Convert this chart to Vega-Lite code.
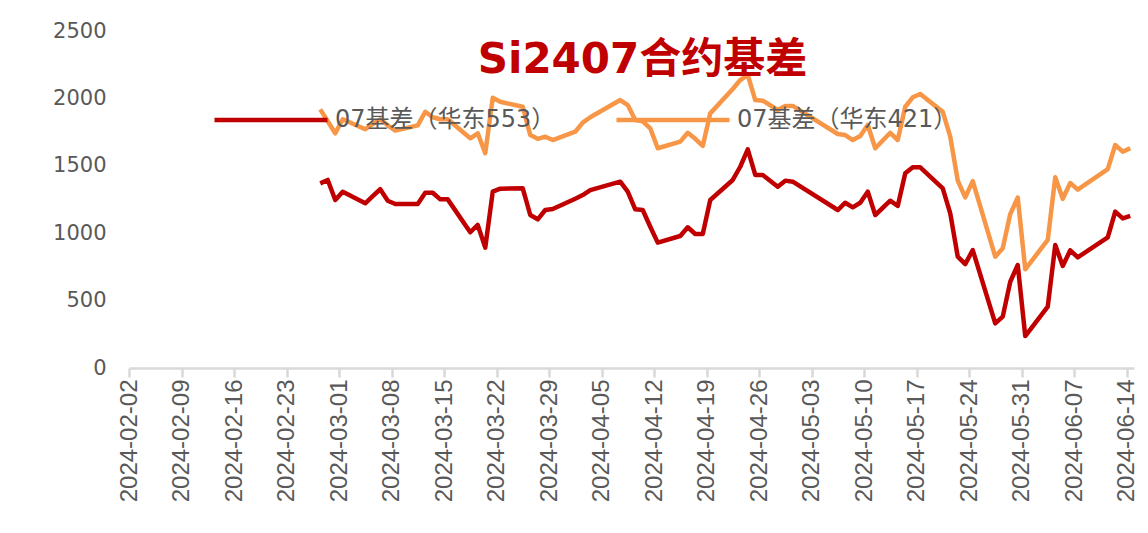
{
  "$schema": "https://vega.github.io/schema/vega-lite/v6.json",
  "width": 1005,
  "height": 337,
  "autosize": {"type": "none"},
  "padding": {"left": 129, "top": 31, "right": 14, "bottom": 165},
  "background": "white",
  "config": {"view": {"stroke": null}},
  "title": {
    "text": "Si2407合约基差",
    "font": "DejaVu Sans, Noto Sans CJK SC",
    "fontSize": 42,
    "fontWeight": "bold",
    "color": "#C00000",
    "anchor": "middle",
    "frame": "group",
    "baseline": "middle",
    "offset": 0,
    "dx": 11,
    "dy": 82
  },
  "data": {
    "values": [
      {"date": "2024-02-27", "series": "07基差（华东553）", "value": 1370},
      {"date": "2024-02-28", "series": "07基差（华东553）", "value": 1395},
      {"date": "2024-02-29", "series": "07基差（华东553）", "value": 1246},
      {"date": "2024-03-01", "series": "07基差（华东553）", "value": 1308},
      {"date": "2024-03-04", "series": "07基差（华东553）", "value": 1222},
      {"date": "2024-03-05", "series": "07基差（华东553）", "value": 1275},
      {"date": "2024-03-06", "series": "07基差（华东553）", "value": 1326},
      {"date": "2024-03-07", "series": "07基差（华东553）", "value": 1241},
      {"date": "2024-03-08", "series": "07基差（华东553）", "value": 1217},
      {"date": "2024-03-11", "series": "07基差（华东553）", "value": 1217},
      {"date": "2024-03-12", "series": "07基差（华东553）", "value": 1300},
      {"date": "2024-03-13", "series": "07基差（华东553）", "value": 1300},
      {"date": "2024-03-14", "series": "07基差（华东553）", "value": 1251},
      {"date": "2024-03-15", "series": "07基差（华东553）", "value": 1251},
      {"date": "2024-03-18", "series": "07基差（华东553）", "value": 1007},
      {"date": "2024-03-19", "series": "07基差（华东553）", "value": 1061},
      {"date": "2024-03-20", "series": "07基差（华东553）", "value": 893},
      {"date": "2024-03-21", "series": "07基差（华东553）", "value": 1308},
      {"date": "2024-03-22", "series": "07基差（华东553）", "value": 1330},
      {"date": "2024-03-25", "series": "07基差（华东553）", "value": 1333},
      {"date": "2024-03-26", "series": "07基差（华东553）", "value": 1135},
      {"date": "2024-03-27", "series": "07基差（华东553）", "value": 1103},
      {"date": "2024-03-28", "series": "07基差（华东553）", "value": 1172},
      {"date": "2024-03-29", "series": "07基差（华东553）", "value": 1180},
      {"date": "2024-04-01", "series": "07基差（华东553）", "value": 1256},
      {"date": "2024-04-02", "series": "07基差（华东553）", "value": 1283},
      {"date": "2024-04-03", "series": "07基差（华东553）", "value": 1320},
      {"date": "2024-04-07", "series": "07基差（华东553）", "value": 1382},
      {"date": "2024-04-08", "series": "07基差（华东553）", "value": 1308},
      {"date": "2024-04-09", "series": "07基差（华东553）", "value": 1177},
      {"date": "2024-04-10", "series": "07基差（华东553）", "value": 1172},
      {"date": "2024-04-11", "series": "07基差（华东553）", "value": 1048},
      {"date": "2024-04-12", "series": "07基差（华东553）", "value": 930},
      {"date": "2024-04-15", "series": "07基差（华东553）", "value": 979},
      {"date": "2024-04-16", "series": "07基差（华东553）", "value": 1044},
      {"date": "2024-04-17", "series": "07基差（华东553）", "value": 994},
      {"date": "2024-04-18", "series": "07基差（华东553）", "value": 994},
      {"date": "2024-04-19", "series": "07基差（华东553）", "value": 1246},
      {"date": "2024-04-22", "series": "07基差（华东553）", "value": 1395},
      {"date": "2024-04-23", "series": "07基差（华东553）", "value": 1493},
      {"date": "2024-04-24", "series": "07基差（华东553）", "value": 1622},
      {"date": "2024-04-25", "series": "07基差（华东553）", "value": 1432},
      {"date": "2024-04-26", "series": "07基差（华东553）", "value": 1432},
      {"date": "2024-04-28", "series": "07基差（华东553）", "value": 1345},
      {"date": "2024-04-29", "series": "07基差（华东553）", "value": 1390},
      {"date": "2024-04-30", "series": "07基差（华东553）", "value": 1382},
      {"date": "2024-05-06", "series": "07基差（华东553）", "value": 1172},
      {"date": "2024-05-07", "series": "07基差（华东553）", "value": 1226},
      {"date": "2024-05-08", "series": "07基差（华东553）", "value": 1192},
      {"date": "2024-05-09", "series": "07基差（华东553）", "value": 1226},
      {"date": "2024-05-10", "series": "07基差（华东553）", "value": 1308},
      {"date": "2024-05-11", "series": "07基差（华东553）", "value": 1135},
      {"date": "2024-05-13", "series": "07基差（华东553）", "value": 1241},
      {"date": "2024-05-14", "series": "07基差（华东553）", "value": 1202},
      {"date": "2024-05-15", "series": "07基差（华东553）", "value": 1444},
      {"date": "2024-05-16", "series": "07基差（华东553）", "value": 1489},
      {"date": "2024-05-17", "series": "07基差（华东553）", "value": 1489},
      {"date": "2024-05-20", "series": "07基差（华东553）", "value": 1333},
      {"date": "2024-05-21", "series": "07基差（华东553）", "value": 1147},
      {"date": "2024-05-22", "series": "07基差（华东553）", "value": 826},
      {"date": "2024-05-23", "series": "07基差（华东553）", "value": 771},
      {"date": "2024-05-24", "series": "07基差（华东553）", "value": 875},
      {"date": "2024-05-27", "series": "07基差（华东553）", "value": 331},
      {"date": "2024-05-28", "series": "07基差（华东553）", "value": 381},
      {"date": "2024-05-29", "series": "07基差（华东553）", "value": 640},
      {"date": "2024-05-30", "series": "07基差（华东553）", "value": 764},
      {"date": "2024-05-31", "series": "07基差（华东553）", "value": 237},
      {"date": "2024-06-03", "series": "07基差（华东553）", "value": 455},
      {"date": "2024-06-04", "series": "07基差（华东553）", "value": 912},
      {"date": "2024-06-05", "series": "07基差（华东553）", "value": 757},
      {"date": "2024-06-06", "series": "07基差（华东553）", "value": 873},
      {"date": "2024-06-07", "series": "07基差（华东553）", "value": 821},
      {"date": "2024-06-11", "series": "07基差（华东553）", "value": 969},
      {"date": "2024-06-12", "series": "07基差（华东553）", "value": 1160},
      {"date": "2024-06-13", "series": "07基差（华东553）", "value": 1110},
      {"date": "2024-06-14", "series": "07基差（华东553）", "value": 1128},
      {"date": "2024-02-27", "series": "07基差（华东421）", "value": 1919},
      {"date": "2024-02-28", "series": "07基差（华东421）", "value": 1830},
      {"date": "2024-02-29", "series": "07基差（华东421）", "value": 1741},
      {"date": "2024-03-01", "series": "07基差（华东421）", "value": 1845},
      {"date": "2024-03-04", "series": "07基差（华东421）", "value": 1771},
      {"date": "2024-03-05", "series": "07基差（华东421）", "value": 1810},
      {"date": "2024-03-06", "series": "07基差（华东421）", "value": 1845},
      {"date": "2024-03-07", "series": "07基差（华东421）", "value": 1800},
      {"date": "2024-03-08", "series": "07基差（华东421）", "value": 1761},
      {"date": "2024-03-11", "series": "07基差（华东421）", "value": 1800},
      {"date": "2024-03-12", "series": "07基差（华东421）", "value": 1901},
      {"date": "2024-03-13", "series": "07基差（华东421）", "value": 1860},
      {"date": "2024-03-14", "series": "07基差（华东421）", "value": 1845},
      {"date": "2024-03-15", "series": "07基差（华东421）", "value": 1845},
      {"date": "2024-03-18", "series": "07基差（华东421）", "value": 1704},
      {"date": "2024-03-19", "series": "07基差（华东421）", "value": 1741},
      {"date": "2024-03-20", "series": "07基差（华东421）", "value": 1593},
      {"date": "2024-03-21", "series": "07基差（华东421）", "value": 2005},
      {"date": "2024-03-22", "series": "07基差（华东421）", "value": 1975},
      {"date": "2024-03-25", "series": "07基差（华东421）", "value": 1938},
      {"date": "2024-03-26", "series": "07基差（华东421）", "value": 1728},
      {"date": "2024-03-27", "series": "07基差（华东421）", "value": 1700},
      {"date": "2024-03-28", "series": "07基差（华东421）", "value": 1716},
      {"date": "2024-03-29", "series": "07基差（华东421）", "value": 1691},
      {"date": "2024-04-01", "series": "07基差（华东421）", "value": 1753},
      {"date": "2024-04-02", "series": "07基差（华东421）", "value": 1820},
      {"date": "2024-04-03", "series": "07基差（华东421）", "value": 1860},
      {"date": "2024-04-07", "series": "07基差（华东421）", "value": 1988},
      {"date": "2024-04-08", "series": "07基差（华东421）", "value": 1951},
      {"date": "2024-04-09", "series": "07基差（华东421）", "value": 1840},
      {"date": "2024-04-10", "series": "07基差（华东421）", "value": 1830},
      {"date": "2024-04-11", "series": "07基差（华东421）", "value": 1778},
      {"date": "2024-04-12", "series": "07基差（华东421）", "value": 1630},
      {"date": "2024-04-15", "series": "07基差（华东421）", "value": 1679},
      {"date": "2024-04-16", "series": "07基差（华东421）", "value": 1745},
      {"date": "2024-04-17", "series": "07基差（华东421）", "value": 1700},
      {"date": "2024-04-18", "series": "07基差（华东421）", "value": 1647},
      {"date": "2024-04-19", "series": "07基差（华东421）", "value": 1889},
      {"date": "2024-04-22", "series": "07基差（华东421）", "value": 2070},
      {"date": "2024-04-23", "series": "07基差（华东421）", "value": 2136},
      {"date": "2024-04-24", "series": "07基差（华东421）", "value": 2175},
      {"date": "2024-04-25", "series": "07基差（华东421）", "value": 1988},
      {"date": "2024-04-26", "series": "07基差（华东421）", "value": 1983},
      {"date": "2024-04-28", "series": "07基差（华东421）", "value": 1914},
      {"date": "2024-04-29", "series": "07基差（华东421）", "value": 1944},
      {"date": "2024-04-30", "series": "07基差（华东421）", "value": 1944},
      {"date": "2024-05-06", "series": "07基差（华东421）", "value": 1736},
      {"date": "2024-05-07", "series": "07基差（华东421）", "value": 1728},
      {"date": "2024-05-08", "series": "07基差（华东421）", "value": 1691},
      {"date": "2024-05-09", "series": "07基差（华东421）", "value": 1721},
      {"date": "2024-05-10", "series": "07基差（华东421）", "value": 1803},
      {"date": "2024-05-11", "series": "07基差（华东421）", "value": 1630},
      {"date": "2024-05-13", "series": "07基差（华东421）", "value": 1745},
      {"date": "2024-05-14", "series": "07基差（华东421）", "value": 1691},
      {"date": "2024-05-15", "series": "07基差（华东421）", "value": 1938},
      {"date": "2024-05-16", "series": "07基差（华东421）", "value": 2008},
      {"date": "2024-05-17", "series": "07基差（华东421）", "value": 2033},
      {"date": "2024-05-20", "series": "07基差（华东421）", "value": 1900},
      {"date": "2024-05-21", "series": "07基差（华东421）", "value": 1716},
      {"date": "2024-05-22", "series": "07基差（华东421）", "value": 1390},
      {"date": "2024-05-23", "series": "07基差（华东421）", "value": 1266},
      {"date": "2024-05-24", "series": "07基差（华东421）", "value": 1386},
      {"date": "2024-05-27", "series": "07基差（华东421）", "value": 826},
      {"date": "2024-05-28", "series": "07基差（华东421）", "value": 888},
      {"date": "2024-05-29", "series": "07基差（华东421）", "value": 1142},
      {"date": "2024-05-30", "series": "07基差（华东421）", "value": 1265},
      {"date": "2024-05-31", "series": "07基差（华东421）", "value": 732},
      {"date": "2024-06-03", "series": "07基差（华东421）", "value": 950},
      {"date": "2024-06-04", "series": "07基差（华东421）", "value": 1415},
      {"date": "2024-06-05", "series": "07基差（华东421）", "value": 1255},
      {"date": "2024-06-06", "series": "07基差（华东421）", "value": 1372},
      {"date": "2024-06-07", "series": "07基差（华东421）", "value": 1323},
      {"date": "2024-06-11", "series": "07基差（华东421）", "value": 1475},
      {"date": "2024-06-12", "series": "07基差（华东421）", "value": 1654},
      {"date": "2024-06-13", "series": "07基差（华东421）", "value": 1605},
      {"date": "2024-06-14", "series": "07基差（华东421）", "value": 1630}
    ]
  },
  "mark": {"type": "line", "strokeWidth": 4.5, "strokeJoin": "round"},
  "encoding": {
    "x": {
      "field": "date",
      "type": "temporal",
      "timeUnit": "utcyearmonthdate",
      "bandPosition": 0.5,
      "scale": {"domain": [
        {"year": 2024, "month": 2, "date": 2, "utc": true},
        {"year": 2024, "month": 6, "date": 15, "utc": true}
      ]},
      "axis": {
        "title": null,
        "grid": false,
        "format": "%Y-%m-%d",
        "values": [
          {"year": 2024, "month": 2, "date": 2, "utc": true},
          {"year": 2024, "month": 2, "date": 9, "utc": true},
          {"year": 2024, "month": 2, "date": 16, "utc": true},
          {"year": 2024, "month": 2, "date": 23, "utc": true},
          {"year": 2024, "month": 3, "date": 1, "utc": true},
          {"year": 2024, "month": 3, "date": 8, "utc": true},
          {"year": 2024, "month": 3, "date": 15, "utc": true},
          {"year": 2024, "month": 3, "date": 22, "utc": true},
          {"year": 2024, "month": 3, "date": 29, "utc": true},
          {"year": 2024, "month": 4, "date": 5, "utc": true},
          {"year": 2024, "month": 4, "date": 12, "utc": true},
          {"year": 2024, "month": 4, "date": 19, "utc": true},
          {"year": 2024, "month": 4, "date": 26, "utc": true},
          {"year": 2024, "month": 5, "date": 3, "utc": true},
          {"year": 2024, "month": 5, "date": 10, "utc": true},
          {"year": 2024, "month": 5, "date": 17, "utc": true},
          {"year": 2024, "month": 5, "date": 24, "utc": true},
          {"year": 2024, "month": 5, "date": 31, "utc": true},
          {"year": 2024, "month": 6, "date": 7, "utc": true},
          {"year": 2024, "month": 6, "date": 14, "utc": true}
        ],
        "labelAngle": 270,
        "labelFont": "Liberation Sans",
        "labelFontSize": 24,
        "labelColor": "#595959",
        "labelPadding": 2,
        "labelOverlap": false,
        "labelFlush": false,
        "domainColor": "#D9D9D9",
        "domainWidth": 2.5,
        "tickColor": "#D9D9D9",
        "tickWidth": 2.5,
        "tickSize": 9
      }
    },
    "y": {
      "field": "value",
      "type": "quantitative",
      "scale": {"domain": [0, 2500]},
      "axis": {
        "title": null,
        "grid": false,
        "domain": false,
        "ticks": false,
        "format": "d",
        "values": [0, 500, 1000, 1500, 2000, 2500],
        "labelFont": "DejaVu Sans",
        "labelFontSize": 21,
        "labelColor": "#595959",
        "labelPadding": 23
      }
    },
    "color": {
      "field": "series",
      "type": "nominal",
      "scale": {
        "domain": ["07基差（华东553）", "07基差（华东421）"],
        "range": ["#C00000", "#F79646"]
      },
      "legend": {
        "title": null,
        "orient": "none",
        "direction": "horizontal",
        "columns": 2,
        "legendX": 83,
        "legendY": 30,
        "padding": 0,
        "symbolType": "stroke",
        "symbolSize": 12769,
        "symbolStrokeWidth": 4.5,
        "labelFont": "DejaVu Sans, Noto Sans CJK SC",
        "labelFontSize": 24,
        "labelColor": "#595959",
        "labelLimit": 400,
        "labelOffset": 5,
        "columnPadding": 51
      }
    }
  }
}
